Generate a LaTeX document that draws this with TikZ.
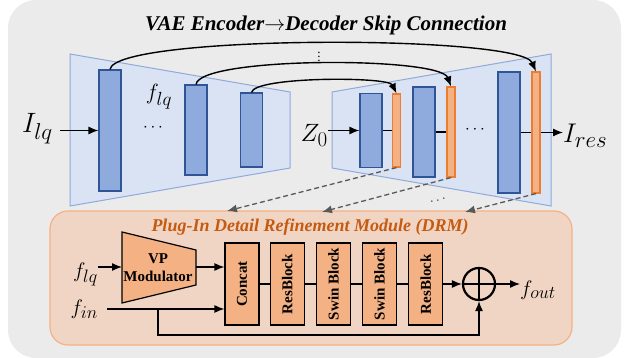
\RequirePackage{fix-cm}
\documentclass[tikz,border=0pt]{standalone}
\usepackage{fontspec}
\setmainfont{Liberation Serif}
\usetikzlibrary{shapes,positioning,arrows.meta,calc}
\DeclareMathSizes{21}{21}{18}{14}
\DeclareMathSizes{22}{22}{19}{15}
\DeclareMathSizes{25}{25}{21}{16}
\DeclareMathSizes{27}{27}{23}{18}
\DeclareMathSizes{28}{28}{23}{18}

\definecolor{bggray}{HTML}{EBEBEB}
\definecolor{trapfill}{HTML}{DAE3F3}
\definecolor{trapline}{HTML}{8FAADC}
\definecolor{blkfill}{HTML}{8FAADC}
\definecolor{blkline}{HTML}{2F5597}
\definecolor{orgfill}{HTML}{F4B183}
\definecolor{orgline}{HTML}{ED7D31}
\definecolor{drmfill}{HTML}{F1D5C4}
\definecolor{drmtext}{HTML}{C55A11}
\definecolor{dashgray}{HTML}{595959}

\tikzset{
  encblk/.style={draw=blkline, fill=blkfill, line width=1.2pt, inner sep=0pt, minimum width=22pt},
  skipblk/.style={draw=orgline, fill=orgfill, line width=1.2pt, inner sep=0pt, minimum width=8pt},
  drmblk/.style={draw, fill=orgfill, line width=1.2pt, inner sep=0pt, minimum width=34pt, minimum height=82pt, font=\bfseries\fontsize{15}{15}\selectfont},
  lbl/.style={inner sep=0pt, font=\fontsize{#1}{#1}\selectfont},
  arr/.style={-{Latex[length=10pt,width=8pt]}, line width=1.2pt},
  skiparr/.style={-{Latex[length=10pt,width=8pt]}, line width=1.4pt},
  featarr/.style={-{Latex[length=10pt,width=8pt]}, draw=dashgray, line width=1.3pt, dash pattern=on 5pt off 3pt},
}

\begin{document}
\begin{tikzpicture}[x=1pt,y=-1pt]
\useasboundingbox (0,0) rectangle (634,358);
\fill[bggray, rounded corners=28pt] (8,0) rectangle (621,358);
\node[anchor=base, font=\bfseries\itshape\fontsize{21}{21}\selectfont] (title) at (326,31) {VAE Encoder$\rightarrow$Decoder Skip Connection};

\filldraw[fill=trapfill, draw=trapline, line width=1pt] (70,54) -- (290,92) -- (290,168) -- (70,206) -- cycle;
\filldraw[fill=trapfill, draw=trapline, line width=1pt] (332,92) -- (551,54) -- (551,206) -- (332,168) -- cycle;

\node[encblk, minimum height=121pt] (enc1) at (110,130.5) {};
\node[encblk, minimum height=90pt] (enc2) at (196,130) {};
\node[encblk, minimum height=74pt] (enc3) at (251.5,130) {};
\node[encblk, minimum height=74pt] (dec1) at (371,130.5) {};
\node[encblk, minimum height=90pt] (dec2) at (424,132) {};
\node[encblk, minimum height=121pt] (dec3) at (509,132.5) {};
\node[skipblk, minimum height=73pt] (skip1) at (396.5,130.5) {};
\node[skipblk, minimum height=90pt] (skip2) at (451,132) {};
\node[skipblk, minimum height=121pt] (skip3) at (536,132.5) {};
\draw[line width=1.2pt] (dec1) -- (skip1) (dec2) -- (skip2) (dec3) -- (skip3);

\node[lbl=17] (encdots) at (153,128) {$\cdots$};
\node[lbl=17] (decdots) at (475,130) {$\cdots$};
\node[lbl=22] (flqenc) at (159,97) {$f_{lq}$};
\node[lbl=28, anchor=base east] (ilq) at (53,133) {$I_{lq}$};
\node[lbl=25, anchor=base east] (zzero) at (328,142) {$Z_0$};
\node[lbl=27, anchor=base west] (ires) at (563,143) {$I_{res}$};
\draw[arr] ([xshift=7pt]ilq.east |- enc1.west) -- (enc1.west);
\draw[arr] (zzero.east |- dec1.west) -- (dec1.west);
\draw[arr] (skip3.east) -- (ires.west |- skip3.east);

\draw[skiparr] (enc1.north) .. controls +(5,-35) and +(-16,-37) .. (skip3.north);
\draw[skiparr] (enc2.north) .. controls +(4,-28) and +(-11,-30) .. (skip2.north);
\draw[skiparr] (enc3.north) .. controls +(3,-16) and +(-8,-17) .. (skip1.north);
\node[lbl=13] (skipdots) at (319,54) {$\vdots$};

\node[draw=orgfill, fill=drmfill, line width=1.2pt, rounded corners=18pt, minimum width=522pt, minimum height=134pt] (drm) at (311,278) {};
\node[anchor=base, text=drmtext, font=\bfseries\itshape\fontsize{18}{18}\selectfont] (drmtitle) at (310,231) {Plug-In Detail Refinement Module (DRM)};

\coordinate (drmin1) at (227,211);
\coordinate (drmin2) at (322,212);
\coordinate (drmin3) at (465,212);
\draw[featarr] (skip1.south) -- (drmin1);
\draw[featarr] (skip2.south) -- (drmin2);
\draw[featarr] (skip3.south) -- (drmin3);
\node[lbl=14, text=dashgray!50!black] (featdots) at (438,201) {\rotatebox{14}{$\cdots$}};

\filldraw[fill=orgfill, draw=black, line width=1.2pt] (122,232) -- (196,250) -- (196,285) -- (122,303) -- cycle;
\node[align=center, inner sep=0pt, font=\bfseries\fontsize{15}{18}\selectfont] (vp) at (158,268) {VP\\Modulator};
\coordinate (vpin) at (122,267);
\coordinate (vpout) at (196,267);

\node[drmblk] (concat) at (242,284) {\rotatebox{90}{Concat}};
\node[drmblk, right=10pt of concat] (res1) {\rotatebox{90}{ResBlock}};
\node[drmblk, right=11pt of res1] (swin1) {\rotatebox{90}{Swin Block}};
\node[drmblk, right=11pt of swin1] (swin2) {\rotatebox{90}{Swin Block}};
\node[drmblk, right=11pt of swin2] (res2) {\rotatebox{90}{ResBlock}};
\draw[line width=1.2pt] (concat) -- (res1) -- (swin1) -- (swin2) -- (res2);
\coordinate (catin1) at ($(concat.west)+(0,-17)$);
\coordinate (catin2) at ($(concat.west)+(0,25)$);

\node[circle, draw, line width=2.2pt, minimum size=32pt, inner sep=0pt] (plus) at (479,284) {};
\draw[line width=2.2pt] (plus.north) -- (plus.south) (plus.west) -- (plus.east);

\node[lbl=21, anchor=base east] (flq) at (98,277) {$f_{lq}$};
\node[lbl=21, anchor=base east] (fin) at (98,314) {$f_{in}$};
\node[lbl=21, anchor=base west] (fout) at (520,295) {$f_{out}$};
\coordinate (finout) at (107,309);

\draw[arr] (flq.east |- vpin) -- (vpin);
\draw[arr] (vpout) -- (catin1);
\draw[arr] (finout) -- (catin2);
\draw[arr] (vp |- catin2) -- ++(0,26) -| (plus.south);
\draw[arr] (res2) -- (plus);
\draw[arr] (plus) -- (fout.west |- plus.east);
\end{tikzpicture}
\end{document}
